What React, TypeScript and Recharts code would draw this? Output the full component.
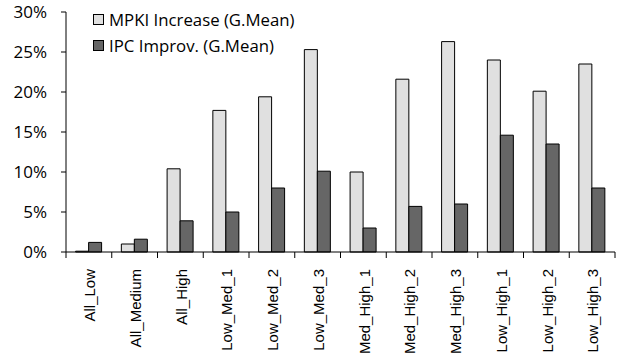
import { BarChart, Bar, XAxis, YAxis } from 'recharts'

const categories = [
  'All_Low',
  'All_Medium',
  'All_High',
  'Low_Med_1',
  'Low_Med_2',
  'Low_Med_3',
  'Med_High_1',
  'Med_High_2',
  'Med_High_3',
  'Low_High_1',
  'Low_High_2',
  'Low_High_3',
]
const mpkiIncrease = [0.1, 1.0, 10.4, 17.7, 19.4, 25.3, 10.0, 21.6, 26.3, 24.0, 20.1, 23.5]
const ipcImprov = [1.2, 1.6, 3.9, 5.0, 8.0, 10.1, 3.0, 5.7, 6.0, 14.6, 13.5, 8.0]
const yTicks = [0, 5, 10, 15, 20, 25, 30]

const series = [
  { key: 'mpki', name: 'MPKI Increase (G.Mean)', color: '#e0e0e0' },
  { key: 'ipc', name: 'IPC Improv. (G.Mean)', color: '#666666' },
]

const data = categories.map((name, i) => ({
  name,
  mpki: mpkiIncrease[i],
  ipc: ipcImprov[i],
}))

const calibriLike = '"Open Sans", sans-serif'

function CategoryTick(props: any) {
  const { x, y, payload, index } = props
  const half = payload.offset ?? 0
  const axisY = y - 8
  return (
    <g>
      <line x1={x - half} y1={axisY} x2={x - half} y2={axisY + 6} stroke="#000" />
      {index === categories.length - 1 && (
        <line x1={x + half} y1={axisY} x2={x + half} y2={axisY + 6} stroke="#000" />
      )}
      <text
        transform={`translate(${x + 1},${axisY + 17}) rotate(-90)`}
        textAnchor="end"
        dy="0.35em"
        fontFamily='"Liberation Sans", Arial, sans-serif'
        fontSize={15}
        fill="#000"
      >
        {payload.value}
      </text>
    </g>
  )
}

export default function App() {
  return (
    <div style={{ position: 'absolute', left: 0, top: 0, width: 618, height: 356, background: '#fff' }}>
      <BarChart
        width={618}
        height={356}
        data={data}
        margin={{ top: 12, right: 3, left: 0, bottom: 0 }}
        barCategoryGap="21%"
        barGap={0}
      >
        <XAxis
          dataKey="name"
          height={104}
          interval={0}
          axisLine={{ stroke: '#000' }}
          tickLine={false}
          tick={<CategoryTick />}
        />
        <YAxis
          width={66}
          domain={[0, 30]}
          ticks={yTicks}
          tickFormatter={(v) => `${v}%`}
          axisLine={{ stroke: '#000' }}
          tickLine={{ stroke: '#000' }}
          tickSize={5}
          tickMargin={14}
          tick={{ fontFamily: calibriLike, fontSize: 17, fill: '#000' }}
        />
        {series.map((s) => (
          <Bar
            key={s.key}
            dataKey={s.key}
            name={s.name}
            fill={s.color}
            stroke="#000"
            isAnimationActive={false}
          />
        ))}
      </BarChart>
      <div
        style={{
          position: 'absolute',
          left: 93,
          top: 6,
          fontFamily: calibriLike,
          fontSize: 16.8,
          color: '#000',
        }}
      >
        {series.map((s) => (
          <div key={s.key} style={{ display: 'flex', alignItems: 'center', height: 26 }}>
            <span
              style={{
                width: 9,
                height: 9,
                background: s.color,
                border: '1px solid #000',
                marginRight: 5,
              }}
            />
            <span>{s.name}</span>
          </div>
        ))}
      </div>
    </div>
  )
}
